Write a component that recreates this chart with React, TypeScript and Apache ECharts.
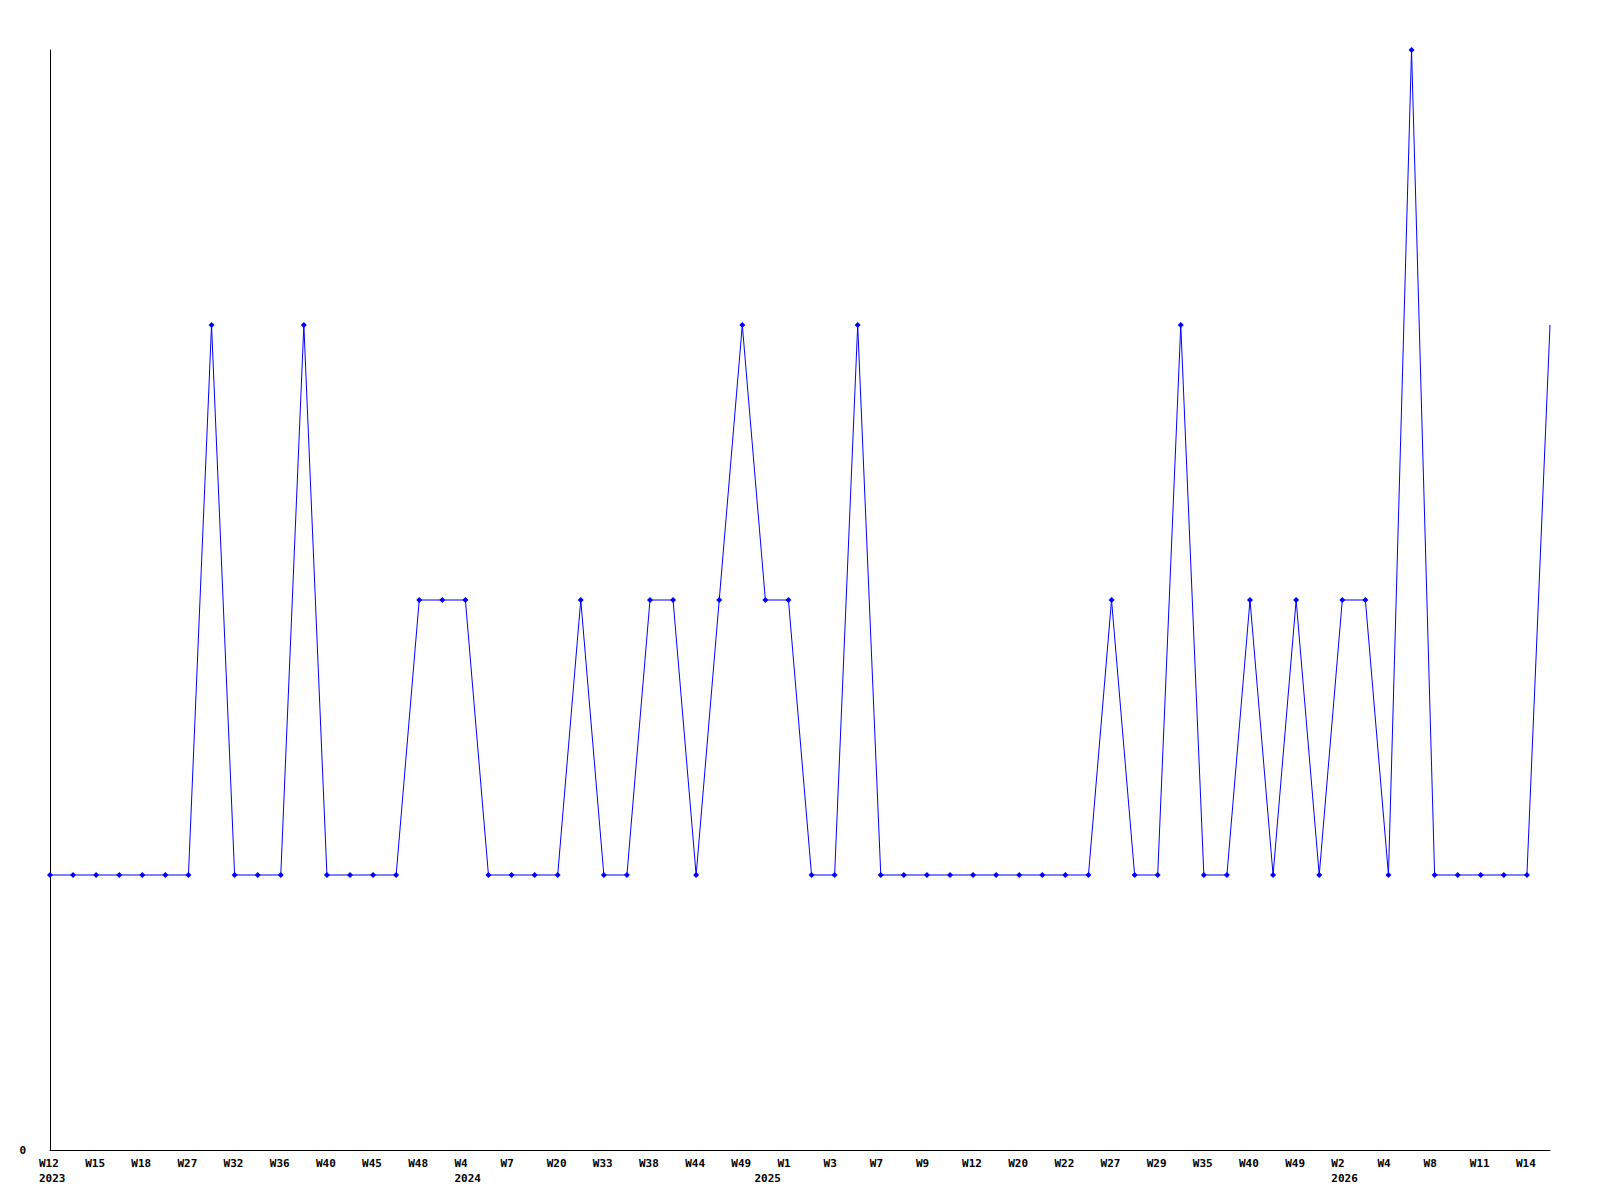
import React, { useEffect, useRef } from "react";
import * as echarts from "echarts";

const weeks = [
  "W12", "W13", "W15", "W17", "W18", "W22", "W27", "W30", "W32", "W34",
  "W36", "W38", "W40", "W43", "W45", "W47", "W48", "W51", "W4", "W5",
  "W7", "W15", "W20", "W28", "W33", "W36", "W38", "W41", "W44", "W47",
  "W49", "W52", "W1", "W2", "W3", "W5", "W7", "W8", "W9", "W10",
  "W12", "W16", "W20", "W21", "W22", "W25", "W27", "W28", "W29", "W31",
  "W35", "W37", "W40", "W45", "W49", "W51", "W2", "W3", "W4", "W6",
  "W8", "W10", "W11", "W13", "W14", "W15",
];

const yearMarkIndex = [0, 18, 31, 56];
const yearMarkLabels = ["2023", "2024", "2025", "2026"];

const values = [
  1, 1, 1, 1, 1, 1, 1, 3, 1, 1,
  1, 3, 1, 1, 1, 1, 2, 2, 2, 1,
  1, 1, 1, 2, 1, 1, 2, 2, 1, 2,
  3, 2, 2, 1, 1, 3, 1, 1, 1, 1,
  1, 1, 1, 1, 1, 1, 2, 1, 1, 3,
  1, 1, 2, 1, 2, 1, 2, 2, 1, 4,
  1, 1, 1, 1, 1, 3,
];

const yTicks = ["0"];

export default function App() {
  const ref = useRef<HTMLDivElement>(null);

  useEffect(() => {
    if (!ref.current) return;
    const chart = echarts.init(ref.current, null, { renderer: "svg" });
    const font = "DejaVu Sans Mono";
    const categories = weeks.map((w, i) => `${i}-${w}`);
    const data = values.map((v, i) =>
      i === values.length - 1 ? { value: v, symbol: "none" } : v
    );
    chart.setOption({
      animation: false,
      backgroundColor: "#ffffff",
      grid: { left: 50, right: 50, top: 50, bottom: 50, containLabel: false },
      xAxis: {
        type: "category",
        data: categories,
        boundaryGap: false,
        axisLine: { show: true, lineStyle: { color: "#000000", width: 1 } },
        axisTick: { show: false },
        splitLine: { show: false },
        axisLabel: {
          interval: (i: number) => i % 2 === 0 || yearMarkIndex.includes(i),
          margin: 6,
          align: "center",
          verticalAlign: "top",
          formatter: (_v: string, i: number) => {
            const yi = yearMarkIndex.indexOf(i);
            const w = i % 2 === 0 ? weeks[i] : "";
            const y = yi >= 0 ? yearMarkLabels[yi] : "";
            return y ? `{b|${w}}\n{b|${y}}` : `{b|${w}}`;
          },
          rich: {
            b: {
              width: 22,
              align: "left",
              color: "#000000",
              fontFamily: font,
              fontWeight: "bold",
              fontSize: 11,
              lineHeight: 15,
            },
          },
        },
      },
      yAxis: {
        type: "value",
        min: 0,
        max: 4,
        interval: 1,
        axisLine: { show: true, lineStyle: { color: "#000000", width: 1 } },
        axisTick: { show: false },
        splitLine: { show: false },
        axisLabel: {
          margin: 24,
          color: "#000000",
          fontFamily: font,
          fontWeight: "bold",
          fontSize: 11,
          formatter: (v: number) => (v === 0 ? yTicks[0] : ""),
        },
      },
      series: [
        {
          type: "line",
          data,
          symbol: "diamond",
          symbolSize: 6,
          showAllSymbol: true,
          clip: true,
          lineStyle: { color: "#0000ff", width: 1 },
          itemStyle: { color: "#0000ff" },
        },
      ],
    });
    return () => chart.dispose();
  }, []);

  return (
    <div
      ref={ref}
      style={{ position: "absolute", left: 0, top: 0, width: 1600, height: 1200 }}
    />
  );
}
